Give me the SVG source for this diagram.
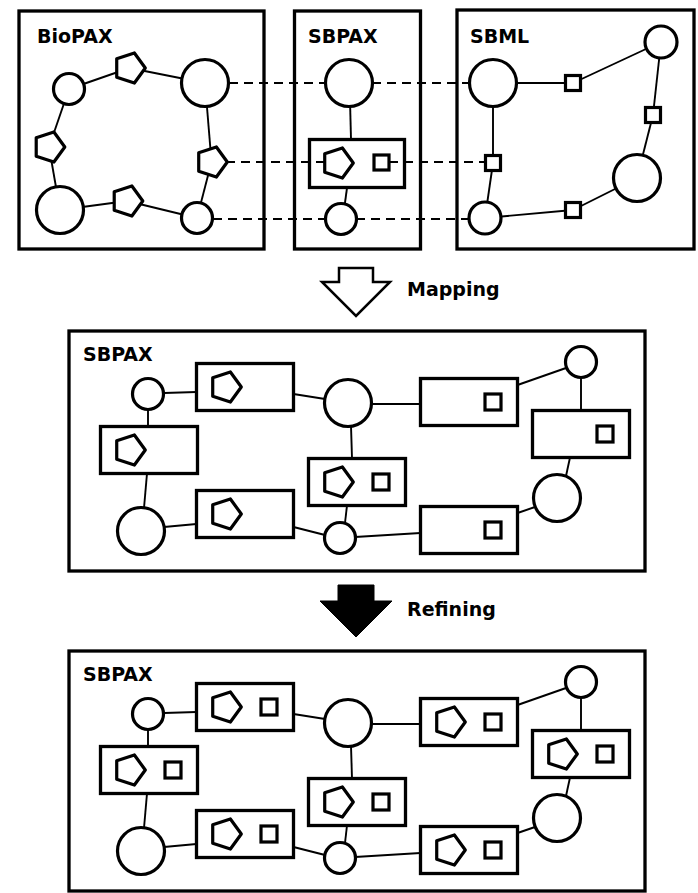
<svg xmlns="http://www.w3.org/2000/svg" xmlns:xlink="http://www.w3.org/1999/xlink" width="698" height="893" viewBox="0 0 698 893">
<style>
.panel{fill:none;stroke:#000;stroke-width:3.3}
.box{fill:none;stroke:#000;stroke-width:3.3}
.node{fill:#fff;stroke:#000;stroke-width:3.2}
.edge{stroke:#000;stroke-width:1.9;fill:none}
.dash{stroke:#000;stroke-width:2;stroke-dasharray:9 6;fill:none}
.lbl{font-family:"DejaVu Sans",Verdana,sans-serif;font-weight:bold;font-size:19px;fill:#000}
</style>
<defs>
<path id="pent" class="node" stroke-linejoin="round" d="M15.8,0 L4.88,15.03 L-12.78,9.29 L-12.78,-9.29 L4.88,-15.03 Z"/>
<rect id="sq" class="node" x="-7.5" y="-7.5" width="15" height="15"/>
<rect id="sq2" class="node" x="-8" y="-8" width="16" height="16"/>
<circle id="cs" class="node" r="15.5"/>
<circle id="cl" class="node" r="23.5"/>
</defs>

<!-- panels -->
<g id="panel-biopax">
<rect class="panel" x="19" y="11" width="245" height="238"/>
<text class="lbl" x="37" y="43">BioPAX</text>
</g>
<g id="panel-sbpax-top">
<rect class="panel" x="294.5" y="11" width="126" height="238"/>
<text class="lbl" x="308" y="43">SBPAX</text>
</g>
<g id="panel-sbml">
<rect class="panel" x="457" y="10" width="237" height="239"/>
<text class="lbl" x="470" y="43">SBML</text>
</g>
<g id="panel-sbpax-mapped">
<rect class="panel" x="69" y="331" width="576" height="240"/>
<text class="lbl" x="83" y="361">SBPAX</text>
</g>
<g id="panel-sbpax-refined">
<rect class="panel" x="69" y="651" width="576" height="240"/>
<text class="lbl" x="83" y="681">SBPAX</text>
</g>

<!-- connectors -->
<g id="connectors">
<!-- BioPAX -->
<line class="edge" x1="69" y1="89" x2="129.5" y2="68"/>
<line class="edge" x1="129.5" y1="68" x2="205" y2="83"/>
<line class="edge" x1="205" y1="83" x2="211.5" y2="162"/>
<line class="edge" x1="211.5" y1="162" x2="197" y2="218"/>
<line class="edge" x1="197" y1="218" x2="127" y2="201"/>
<line class="edge" x1="127" y1="201" x2="60" y2="210"/>
<line class="edge" x1="60" y1="210" x2="49" y2="147"/>
<line class="edge" x1="49" y1="147" x2="69" y2="89"/>
<!-- SBPAX top -->
<line class="edge" x1="350" y1="100" x2="351" y2="139.5"/>
<line class="edge" x1="347" y1="188" x2="344" y2="210"/>
<!-- SBML -->
<line class="edge" x1="493" y1="83" x2="573" y2="83"/>
<line class="edge" x1="573" y1="83" x2="661" y2="42"/>
<line class="edge" x1="661" y1="42" x2="653" y2="115"/>
<line class="edge" x1="653" y1="115" x2="637" y2="178"/>
<line class="edge" x1="637" y1="178" x2="573" y2="210"/>
<line class="edge" x1="573" y1="210" x2="485" y2="218"/>
<line class="edge" x1="485" y1="218" x2="493" y2="163"/>
<line class="edge" x1="493" y1="163" x2="493" y2="83"/>
<!-- mapping dashes -->
<line class="dash" x1="229" y1="83" x2="326" y2="83"/>
<line class="dash" x1="372" y1="83" x2="470" y2="83"/>
<line class="dash" x1="226" y1="162" x2="324" y2="162"/>
<line class="dash" x1="389" y1="162" x2="485" y2="162"/>
<line class="dash" x1="213" y1="219" x2="326" y2="219"/>
<line class="dash" x1="356" y1="219" x2="469" y2="219"/>
<!-- middle panel -->
<g id="edges-mapped">
<line class="edge" x1="164" y1="393" x2="196.5" y2="392"/>
<line class="edge" x1="293.5" y1="394" x2="325" y2="399"/>
<line class="edge" x1="351" y1="426" x2="352" y2="458.5"/>
<line class="edge" x1="148" y1="409" x2="148" y2="426.5"/>
<line class="edge" x1="147" y1="473.5" x2="144" y2="508"/>
<line class="edge" x1="164" y1="527" x2="196.5" y2="524"/>
<line class="edge" x1="293.5" y1="527" x2="325" y2="535"/>
<line class="edge" x1="347" y1="505.5" x2="345" y2="523"/>
<line class="edge" x1="355" y1="537" x2="420.5" y2="533"/>
<line class="edge" x1="371" y1="404" x2="420.5" y2="404"/>
<line class="edge" x1="517.5" y1="385" x2="566" y2="368"/>
<line class="edge" x1="581" y1="377" x2="581" y2="410.5"/>
<line class="edge" x1="570" y1="457.5" x2="566" y2="476"/>
<line class="edge" x1="535" y1="507" x2="517.5" y2="513"/>
</g>
<g id="edges-refined" transform="translate(0,320)">
<line class="edge" x1="164" y1="393" x2="196.5" y2="392"/>
<line class="edge" x1="293.5" y1="394" x2="325" y2="399"/>
<line class="edge" x1="351" y1="426" x2="352" y2="458.5"/>
<line class="edge" x1="148" y1="409" x2="148" y2="426.5"/>
<line class="edge" x1="147" y1="473.5" x2="144" y2="508"/>
<line class="edge" x1="164" y1="527" x2="196.5" y2="524"/>
<line class="edge" x1="293.5" y1="527" x2="325" y2="535"/>
<line class="edge" x1="347" y1="505.5" x2="345" y2="523"/>
<line class="edge" x1="355" y1="537" x2="420.5" y2="533"/>
<line class="edge" x1="371" y1="404" x2="420.5" y2="404"/>
<line class="edge" x1="517.5" y1="385" x2="566" y2="368"/>
<line class="edge" x1="581" y1="377" x2="581" y2="410.5"/>
<line class="edge" x1="570" y1="457.5" x2="566" y2="476"/>
<line class="edge" x1="535" y1="507" x2="517.5" y2="513"/>
</g>
</g>

<!-- BioPAX nodes -->
<g id="bp-c1"><use xlink:href="#cs" x="69" y="89"/></g>
<g id="bp-c2"><use xlink:href="#cl" x="205" y="83"/></g>
<g id="bp-c3"><use xlink:href="#cl" x="60" y="210"/></g>
<g id="bp-c4"><use xlink:href="#cs" x="197" y="218"/></g>
<g id="bp-p1"><use xlink:href="#pent" x="129.5" y="68"/></g>
<g id="bp-p2"><use xlink:href="#pent" x="49" y="147"/></g>
<g id="bp-p3"><use xlink:href="#pent" x="211.5" y="162"/></g>
<g id="bp-p4"><use xlink:href="#pent" x="127" y="201"/></g>

<!-- SBPAX top nodes -->
<g id="sp-c1"><use xlink:href="#cl" x="349" y="83"/></g>
<g id="sp-r1">
<rect class="box" x="309.5" y="139.5" width="95" height="48"/>
<use xlink:href="#pent" x="337.5" y="163"/>
<use xlink:href="#sq" x="381.5" y="162.5"/>
</g>
<g id="sp-c2"><use xlink:href="#cs" x="341" y="219"/></g>

<!-- SBML nodes -->
<g id="sb-c1"><use xlink:href="#cl" x="493" y="83"/></g>
<g id="sb-s1"><use xlink:href="#sq" x="573" y="83"/></g>
<g id="sb-c2"><circle class="node" cx="661" cy="42" r="16"/></g>
<g id="sb-s2"><use xlink:href="#sq" x="653" y="115"/></g>
<g id="sb-c3"><use xlink:href="#cl" x="637" y="178"/></g>
<g id="sb-s3"><use xlink:href="#sq" x="573" y="210"/></g>
<g id="sb-c4"><circle class="node" cx="485" cy="218" r="16"/></g>
<g id="sb-s4"><use xlink:href="#sq" x="493" y="163"/></g>

<!-- Mapping arrow -->
<g id="arrow-mapping">
<polygon points="339,268 373,268 373,282 390,282 356,316 322,282 339,282" fill="#fff" stroke="#000" stroke-width="2.5" stroke-linejoin="miter"/>
<text class="lbl" x="407" y="296">Mapping</text>
</g>

<!-- Middle panel nodes -->
<g id="m-c1"><use xlink:href="#cs" x="148" y="394"/></g>
<g id="m-c2"><use xlink:href="#cl" x="348" y="403"/></g>
<g id="m-c3"><use xlink:href="#cl" x="141" y="531"/></g>
<g id="m-c4"><use xlink:href="#cs" x="340" y="538"/></g>
<g id="m-c5"><use xlink:href="#cs" x="581" y="362"/></g>
<g id="m-c6"><use xlink:href="#cl" x="557" y="498"/></g>
<g id="m-r1"><rect class="box" x="196.5" y="363.5" width="97" height="47"/><use xlink:href="#pent" x="225.5" y="387"/></g>
<g id="m-r2"><rect class="box" x="100.5" y="426.5" width="97" height="47"/><use xlink:href="#pent" x="129.5" y="450"/></g>
<g id="m-r3"><rect class="box" x="196.5" y="490.5" width="97" height="47"/><use xlink:href="#pent" x="225.5" y="514"/></g>
<g id="m-r4"><rect class="box" x="308.5" y="458.5" width="97" height="47"/><use xlink:href="#pent" x="337.5" y="482"/><use xlink:href="#sq2" x="381" y="482"/></g>
<g id="m-r5"><rect class="box" x="420.5" y="378.5" width="97" height="47"/><use xlink:href="#sq2" x="493" y="402"/></g>
<g id="m-r6"><rect class="box" x="532.5" y="410.5" width="97" height="47"/><use xlink:href="#sq2" x="605" y="434"/></g>
<g id="m-r7"><rect class="box" x="420.5" y="506.5" width="97" height="47"/><use xlink:href="#sq2" x="493" y="530"/></g>

<!-- Refining arrow -->
<g id="arrow-refining">
<polygon points="338,585 374,585 374,601 392,601 356,637 320,601 338,601" fill="#000" stroke="#000" stroke-width="1"/>
<text class="lbl" x="407" y="616">Refining</text>
</g>

<!-- Bottom panel nodes -->
<g id="b-c1"><use xlink:href="#cs" x="148" y="714"/></g>
<g id="b-c2"><use xlink:href="#cl" x="348" y="723"/></g>
<g id="b-c3"><use xlink:href="#cl" x="141" y="851"/></g>
<g id="b-c4"><use xlink:href="#cs" x="340" y="858"/></g>
<g id="b-c5"><use xlink:href="#cs" x="581" y="682"/></g>
<g id="b-c6"><use xlink:href="#cl" x="557" y="818"/></g>
<g id="b-r1"><rect class="box" x="196.5" y="683.5" width="97" height="47"/><use xlink:href="#pent" x="225.5" y="707"/><use xlink:href="#sq2" x="269" y="707"/></g>
<g id="b-r2"><rect class="box" x="100.5" y="746.5" width="97" height="47"/><use xlink:href="#pent" x="129.5" y="770"/><use xlink:href="#sq2" x="173" y="770"/></g>
<g id="b-r3"><rect class="box" x="196.5" y="810.5" width="97" height="47"/><use xlink:href="#pent" x="225.5" y="834"/><use xlink:href="#sq2" x="269" y="834"/></g>
<g id="b-r4"><rect class="box" x="308.5" y="778.5" width="97" height="47"/><use xlink:href="#pent" x="337.5" y="802"/><use xlink:href="#sq2" x="381" y="802"/></g>
<g id="b-r5"><rect class="box" x="420.5" y="698.5" width="97" height="47"/><use xlink:href="#pent" x="449.5" y="722"/><use xlink:href="#sq2" x="493" y="722"/></g>
<g id="b-r6"><rect class="box" x="532.5" y="730.5" width="97" height="47"/><use xlink:href="#pent" x="561.5" y="754"/><use xlink:href="#sq2" x="605" y="754"/></g>
<g id="b-r7"><rect class="box" x="420.5" y="826.5" width="97" height="47"/><use xlink:href="#pent" x="449.5" y="850"/><use xlink:href="#sq2" x="493" y="850"/></g>
</svg>
